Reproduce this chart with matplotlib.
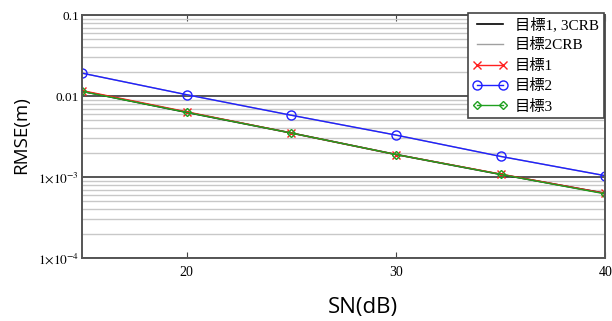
import matplotlib.pyplot as plt
from matplotlib.ticker import FixedLocator, NullFormatter

# SN (dB)
sn = [15, 20, 25, 30, 35, 40]
# RMSE (m)
crb13 = [0.0115, 0.0063, 0.0035, 0.0019, 0.00108, 0.00063]
crb2 = [0.0192, 0.0104, 0.0058, 0.0033, 0.0018, 0.00104]
tgt1 = [0.0117, 0.0064, 0.0035, 0.0019, 0.00109, 0.00063]
tgt2 = [0.0192, 0.0104, 0.0058, 0.0033, 0.0018, 0.00104]
tgt3 = [0.0114, 0.0063, 0.0035, 0.0019, 0.00108, 0.00062]

xticks = [20, 30, 40]
yticks = [1e-4, 1e-3, 1e-2, 1e-1]
ylabels = [r"$1{\times}10^{-4}$", r"$1{\times}10^{-3}$", "0.01", "0.1"]

serif = ["Liberation Serif", "Noto Sans CJK JP"]


def main() -> None:
    plt.rcParams["mathtext.fontset"] = "stix"
    fig = plt.figure(figsize=(6.12, 3.21), dpi=100)
    ax = fig.add_axes([0.134, 0.196, 0.855, 0.757])

    ax.set_yscale("log")
    ax.set_xlim(15, 40)
    ax.set_ylim(1e-4, 1e-1)

    # grid: light minor lines, darker decade lines
    ax.yaxis.set_minor_locator(FixedLocator(
        [m * 10.0 ** e for e in (-4, -3, -2) for m in range(2, 10)]))
    ax.yaxis.set_minor_formatter(NullFormatter())
    ax.grid(True, which="minor", axis="y", color="#c8c8c8", lw=1.0)
    ax.grid(True, which="major", axis="y", color="#555555", lw=1.4)
    ax.set_axisbelow(True)

    ax.plot(sn, crb13, color="black", lw=1.2, label="目標1, 3CRB")
    ax.plot(sn, crb2, color="#a0a0a0", lw=1.0, label="目標2CRB")
    ax.plot(sn, tgt1, color="#ff2020", lw=1.0, marker="x", ms=6,
            mfc="none", label="目標1")
    ax.plot(sn, tgt2, color="#2020ff", lw=1.0, marker="o", ms=6.5,
            mfc="none", label="目標2")
    ax.plot(sn, tgt3, color="#20a020", lw=1.0, marker="D", ms=4.5,
            mfc="none", label="目標3")

    ax.set_xticks(xticks)
    ax.set_xticklabels([str(t) for t in xticks], family=serif, fontsize=10)
    ax.set_yticks(yticks)
    ax.set_yticklabels(ylabels, fontsize=9.5)
    for t in ax.get_yticklabels():
        t.set_family(serif)
    ax.tick_params(axis="x", direction="in", top=True, length=4,
                   color="#444444", pad=6)
    ax.tick_params(axis="y", which="both", length=0, pad=2)

    for s in ax.spines.values():
        s.set_color("#555555")
        s.set_linewidth(1.4)

    ax.set_xlabel("SN(dB)", family="Open Sans", fontsize=16)
    ax.set_ylabel("RMSE(m)", family="Open Sans", fontsize=13.5)
    ax.xaxis.set_label_coords(0.537, -0.16)
    ax.yaxis.set_label_coords(-0.1, 0.506)

    leg = ax.legend(loc="upper right", bbox_to_anchor=(0.997, 1.01),
                    prop={"family": serif, "size": 11},
                    fancybox=False, framealpha=1, edgecolor="#444444",
                    borderaxespad=0.0, handlelength=2.3, labelspacing=0.42,
                    borderpad=0.3, numpoints=2, handletextpad=0.5)
    leg.get_frame().set_linewidth(1.2)

    fig.savefig("out.png", dpi=100)


if __name__ == "__main__":
    main()
